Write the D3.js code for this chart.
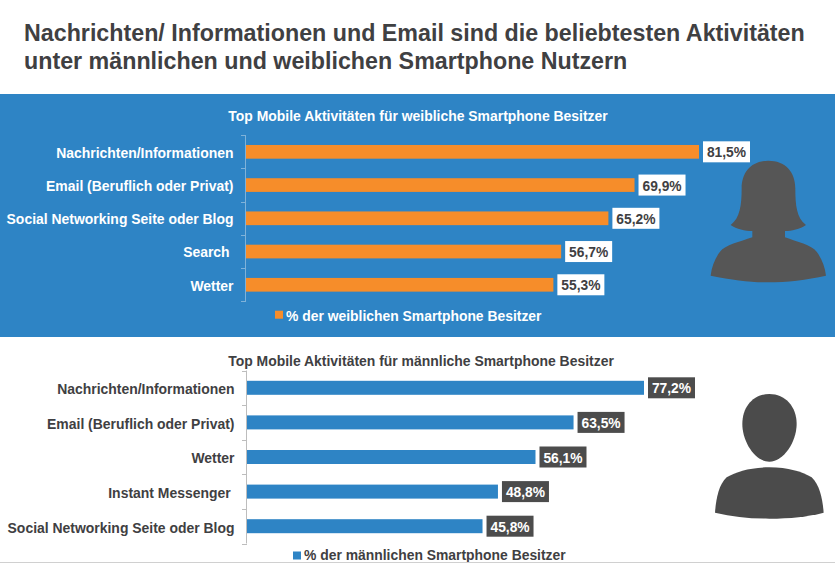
<!DOCTYPE html>
<html><head><meta charset="utf-8">
<script src="https://cdn.jsdelivr.net/npm/d3@7/dist/d3.min.js"></script>
<style>
html,body{margin:0;padding:0;background:#fff;overflow:hidden}
svg{display:block}
text{font-family:"Liberation Sans",Arial,sans-serif;font-weight:700;white-space:pre}
</style></head><body><svg id="c" width="835" height="563"></svg>
<script>
const titleLines = ["Nachrichten/ Informationen und Email sind die beliebtesten Aktivitäten","unter männlichen und weiblichen Smartphone Nutzern"];
const femaleTitle = "Top Mobile Aktivitäten für weibliche Smartphone Besitzer";
const maleTitle = "Top Mobile Aktivitäten für männliche Smartphone Besitzer";
const femaleCategories = ["Nachrichten/Informationen","Email (Beruflich oder Privat)","Social Networking Seite oder Blog","Search ","Wetter"];
const femaleValues = [81.5,69.9,65.2,56.7,55.3];
const maleCategories = ["Nachrichten/Informationen","Email (Beruflich oder Privat)","Wetter","Instant Messenger ","Social Networking Seite oder Blog"];
const maleValues = [77.2,63.5,56.1,48.8,45.8];
const femaleLegend = "% der weiblichen Smartphone Besitzer";
const maleLegend = "% der männlichen Smartphone Besitzer";

const BLUE="#2e84c5", ORANGE="#f68d2a", DARK="#4c4c4c", INK="#3f4042";
const svg=d3.select("#c");

svg.append("rect").attr("x",0).attr("y",94).attr("width",835).attr("height",243).attr("fill",BLUE);

svg.selectAll("text.main").data(titleLines).join("text").attr("class","main")
  .attr("x",24).attr("y",(d,i)=>41+i*28).attr("font-size",23.26).attr("fill",INK).text(d=>d);

function panel(o){
  const g=svg.append("g");
  const x=d3.scaleLinear().domain([0,o.max]).range([o.x0,o.x1]);
  const y=d3.scaleBand().domain(o.cats).range([o.y0,o.y1]);
  g.append("text").attr("x",o.titleX).attr("y",o.titleY).attr("text-anchor","middle")
    .attr("font-size",13.95).attr("fill",o.text).text(o.title);
  const edges=[...o.cats.map(c=>y(c)),o.y1];
  g.append("line").attr("x1",o.x0-.5).attr("x2",o.x0-.5).attr("y1",o.y0).attr("y2",o.y1).attr("stroke",o.tick);
  g.selectAll("line.t").data(edges).join("line").attr("class","t")
    .attr("x1",o.x0-5).attr("x2",o.x0).attr("y1",d=>Math.round(d)+.5).attr("y2",d=>Math.round(d)+.5).attr("stroke",o.tick);
  const ax=g.append("g").attr("transform",`translate(${o.x0},0)`).call(d3.axisLeft(y).tickSize(0).tickPadding(o.pad));
  ax.select(".domain").remove();
  ax.selectAll("text").attr("font-size",13.95).attr("font-family",null).attr("fill",o.text).attr("dy",o.labelDy);
  const rows=o.cats.map((c,i)=>({c,v:o.vals[i]}));
  g.selectAll("rect.bar").data(rows).join("rect").attr("class","bar")
    .attr("x",x(0)).attr("y",d=>y(d.c)+y.bandwidth()/2-o.barH/2)
    .attr("width",d=>x(d.v)-x(0)).attr("height",o.barH).attr("fill",o.bar);
  g.selectAll("rect.box").data(rows).join("rect").attr("class","box")
    .attr("x",d=>x(d.v)+4).attr("y",d=>y(d.c)+y.bandwidth()/2-10.5)
    .attr("width",47).attr("height",21).attr("fill",o.boxFill);
  g.selectAll("text.val").data(rows).join("text").attr("class","val")
    .attr("x",d=>x(d.v)+27.5).attr("y",d=>y(d.c)+y.bandwidth()/2+5.5)
    .attr("text-anchor","middle").attr("font-size",13.8).attr("fill",o.boxText)
    .text(d=>d3.format(".1f")(d.v).replace(".",",")+"%");
  g.append("rect").attr("x",o.lx).attr("y",o.sy).attr("width",8).attr("height",8).attr("fill",o.bar);
  g.append("text").attr("x",o.lx+11).attr("y",o.ly).attr("font-size",13.9).attr("fill",o.text).text(o.legend);
}

panel({cats:femaleCategories,vals:femaleValues,title:femaleTitle,legend:femaleLegend,
  max:81.5,x0:246,x1:699,y0:135.2,y1:301.4,barH:13.7,bar:ORANGE,text:"#fff",tick:"#7fb2d9",
  boxFill:"#fff",boxText:INK,titleX:418,titleY:120.5,pad:12.5,lx:275,ly:320.5,sy:310.7,labelDy:"0.42em"});
panel({cats:maleCategories,vals:maleValues,title:maleTitle,legend:maleLegend,
  max:77.2,x0:247,x1:644,y0:370.5,y1:543.5,barH:14,bar:BLUE,text:INK,tick:"#bdbdbd",
  boxFill:DARK,boxText:"#fff",titleX:421,titleY:365.5,pad:12.5,lx:293,ly:560,sy:551.5,labelDy:"0.46em"});

svg.append("line").attr("x1",0).attr("x2",835).attr("y1",562.5).attr("y2",562.5).attr("stroke","#d0d0d0");

svg.append("path").attr("transform","translate(600,130) scale(.3333)").attr("fill","#565656")
 .attr("d","M505 92C455 92 425 125 425 175C425 225 420 265 392 285C410 298 435 303 457 303L457 322C420 335 375 345 360 365C345 385 335 410 332 437C400 450 450 457 505 457C560 457 620 450 678 437C675 410 665 385 650 365C635 345 590 335 555 322L555 303C575 303 600 298 618 285C590 265 586 225 586 175C586 125 555 92 505 92Z");
const male=svg.append("g").attr("transform","translate(600,370) scale(.3333)").attr("fill","#4b4b4b");
male.append("path").attr("d","M508 72C460 72 427 110 427 162C427 215 465 275 508 275C551 275 590 215 590 162C590 110 556 72 508 72Z");
male.append("path").attr("d","M508 292C450 292 410 305 380 322C355 345 348 390 345 428C400 440 450 446 508 446C570 446 625 440 671 428C668 390 660 345 635 322C605 305 565 292 508 292Z");
</script></body></html>
